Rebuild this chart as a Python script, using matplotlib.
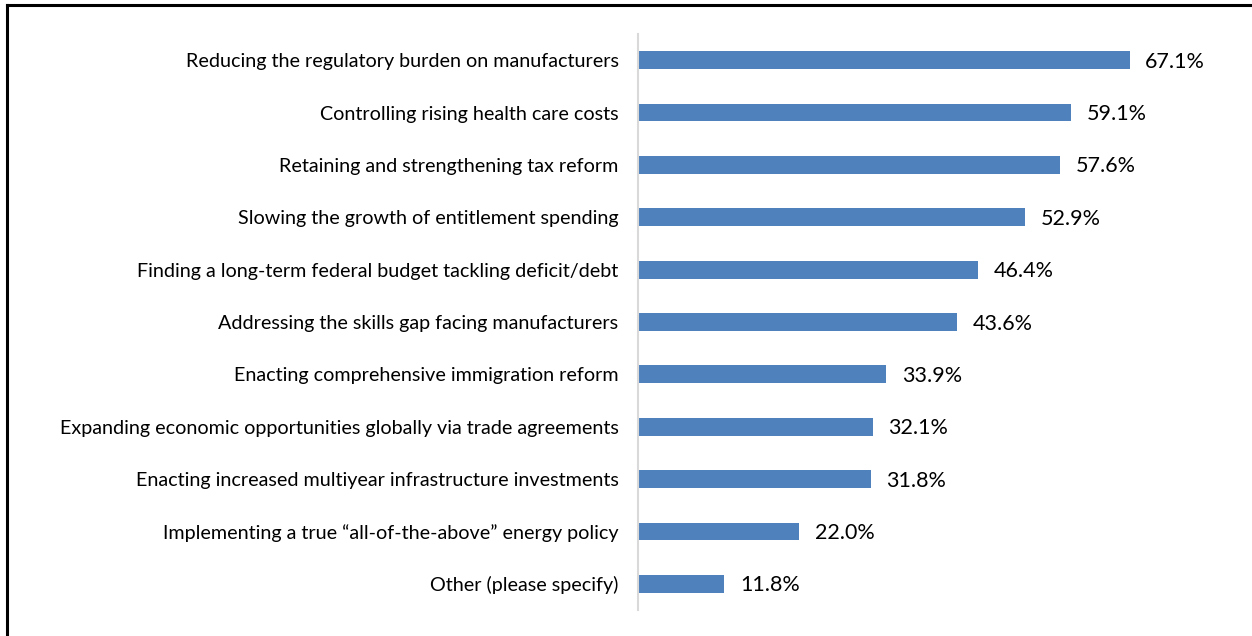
import matplotlib.pyplot as plt
from matplotlib.lines import Line2D

categories = [
    "Reducing the regulatory burden on manufacturers",
    "Controlling rising health care costs",
    "Retaining and strengthening tax reform",
    "Slowing the growth of entitlement spending",
    "Finding a long-term federal budget tackling deficit/debt",
    "Addressing the skills gap facing manufacturers",
    "Enacting comprehensive immigration reform",
    "Expanding economic opportunities globally via trade agreements",
    "Enacting increased multiyear infrastructure investments",
    "Implementing a true \u201call-of-the-above\u201d energy policy",
    "Other (please specify)",
]
values = [67.1, 59.1, 57.6, 52.9, 46.4, 43.6, 33.9, 32.1, 31.8, 22.0, 11.8]

plt.rcParams['font.family'] = ['Lato', 'DejaVu Sans']

fig = plt.figure(figsize=(12.52, 6.36), dpi=100)
ax = fig.add_axes([638 / 1252, 26 / 636, 586 / 1252, 576 / 636])

ypos = list(range(len(categories)))
ax.barh(ypos, values, height=0.34, color='#4f81bd')
ax.set_ylim(len(categories) - 0.5, -0.5)
ax.set_xlim(0, 80)
ax.set_yticks(ypos)
ax.set_yticklabels(categories, fontsize=14.2)
ax.tick_params(axis='y', length=0, pad=14)
ax.set_xticks([])
for s in ['top', 'right', 'bottom']:
    ax.spines[s].set_visible(False)
ax.spines['left'].set_color('#d9d9d9')
ax.spines['left'].set_linewidth(1.5)

for y, v in zip(ypos, values):
    ax.text(v + 2.1, y + 0.03, f"{v:.1f}%", va='center', ha='left', fontsize=15.5)

# frame around the figure
fig.add_artist(Line2D([7 / 1252, 7 / 1252], [0, 1 - 5 / 636], transform=fig.transFigure,
                      color='black', lw=2.2))
fig.add_artist(Line2D([7 / 1252, 1], [1 - 5 / 636, 1 - 5 / 636], transform=fig.transFigure,
                      color='black', lw=2.2))

fig.savefig('out.png', dpi=100)
